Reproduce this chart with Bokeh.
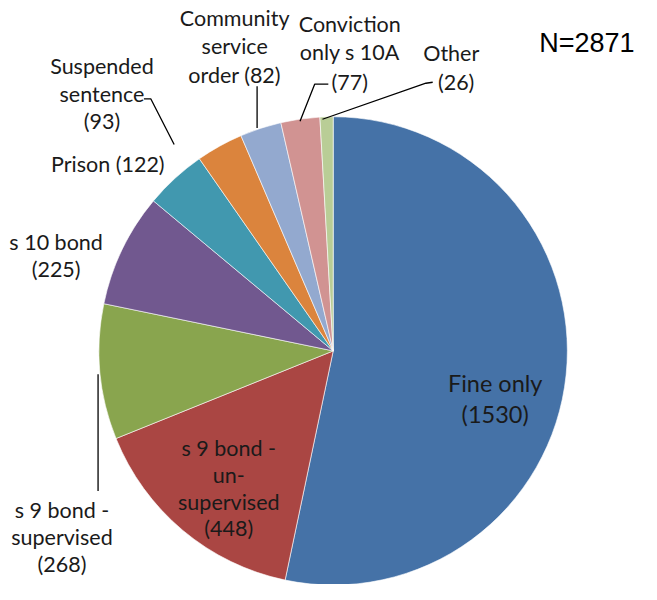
import numpy as np
from bokeh.plotting import figure
from bokeh.models import Range1d, ColumnDataSource
from bokeh.core.properties import value
from bokeh.embed import file_html
from bokeh.resources import INLINE

categories = ["Fine only", "s 9 bond - un-supervised", "s 9 bond - supervised", "s 10 bond",
              "Prison", "Suspended sentence", "Community service order",
              "Conviction only s 10A", "Other"]
counts = [1530, 448, 268, 225, 122, 93, 82, 77, 26]
colors = ["#4572A7", "#AA4643", "#89A54E", "#71588F", "#4198AF",
          "#DB843D", "#93A9CF", "#D19392", "#B9CD96"]

W, H = 641, 584
p = figure(width=W, height=H, output_backend="svg", toolbar_location=None,
           x_range=Range1d(0, 657), y_range=Range1d(0, 600), min_border=0)
p.axis.visible = False
p.grid.visible = False
p.outline_line_color = None
p.background_fill_color = "white"

def Y(img_y):
    return 600 - img_y

def X(img_x):
    return img_x

total = sum(counts)
frac = np.array(counts) / total
cum = np.concatenate([[0], np.cumsum(frac)])
start = np.pi / 2 - cum[:-1] * 2 * np.pi
end = np.pi / 2 - cum[1:] * 2 * np.pi
cx, cy, r = X(341), Y(360), 240
src = ColumnDataSource(dict(start=start, end=end, color=colors))
p.wedge(x=cx, y=cy, radius=r, start_angle="start", end_angle="end", direction="clock",
        fill_color="color", line_color="white", line_width=0.6, source=src)

font = value("Lato")
L = 21.5
labels = [
    ("Fine only", 507, 393, 23.5), (f"({counts[0]})", 507, 425, 23.5),
    ("s 9 bond -", 234, 460, L), ("un-", 234, 488, L), ("supervised", 234, 515, L), (f"({counts[1]})", 234, 542, L),
    ("s 9 bond -", 63, 523, L), ("supervised", 63, 551, L), (f"({counts[2]})", 63, 579, L),
    ("s 10 bond", 57, 248, L), (f"({counts[3]})", 57, 276, L),
    (f"Prison ({counts[4]})", 110, 168, L),
    ("Suspended", 104, 67, L), ("sentence", 104, 96, L), (f"({counts[5]})", 104, 124, L),
    ("Community", 240, 18, L), ("service", 240, 47, L), (f"order ({counts[6]})", 240, 77, L),
    ("Conviction", 358, 24, L), ("only s 10A", 358, 53, L), (f"({counts[7]})", 358, 84, L),
    ("Other", 462, 54, L), (f"({counts[8]})", 467, 84, L),
]
for t, x, y, s in labels:
    p.text(x=[X(x)], y=[Y(y)], text=[t], text_font=font, text_font_size=f"{s}px",
           text_align="center", text_baseline="middle", text_color="#1a1a1a")

p.text(x=[X(601)], y=[Y(44)], text=[f"N={total}"], text_font=value("Liberation Sans"),
       text_font_size="27px", text_align="center", text_baseline="middle", text_color="black")

leaders = [
    [(100, 384), (100, 504)],
    [(147, 101), (154, 101), (178, 148)],
    [(263, 88), (263, 131)],
    [(336, 86), (322, 86), (307, 124)],
    [(443, 84), (436, 85), (330, 122)],
]
for pts in leaders:
    p.line(x=[X(a) for a, b in pts], y=[Y(b) for a, b in pts], line_color="black", line_width=1.3)

open("out.html", "w").write(file_html(p, INLINE))
